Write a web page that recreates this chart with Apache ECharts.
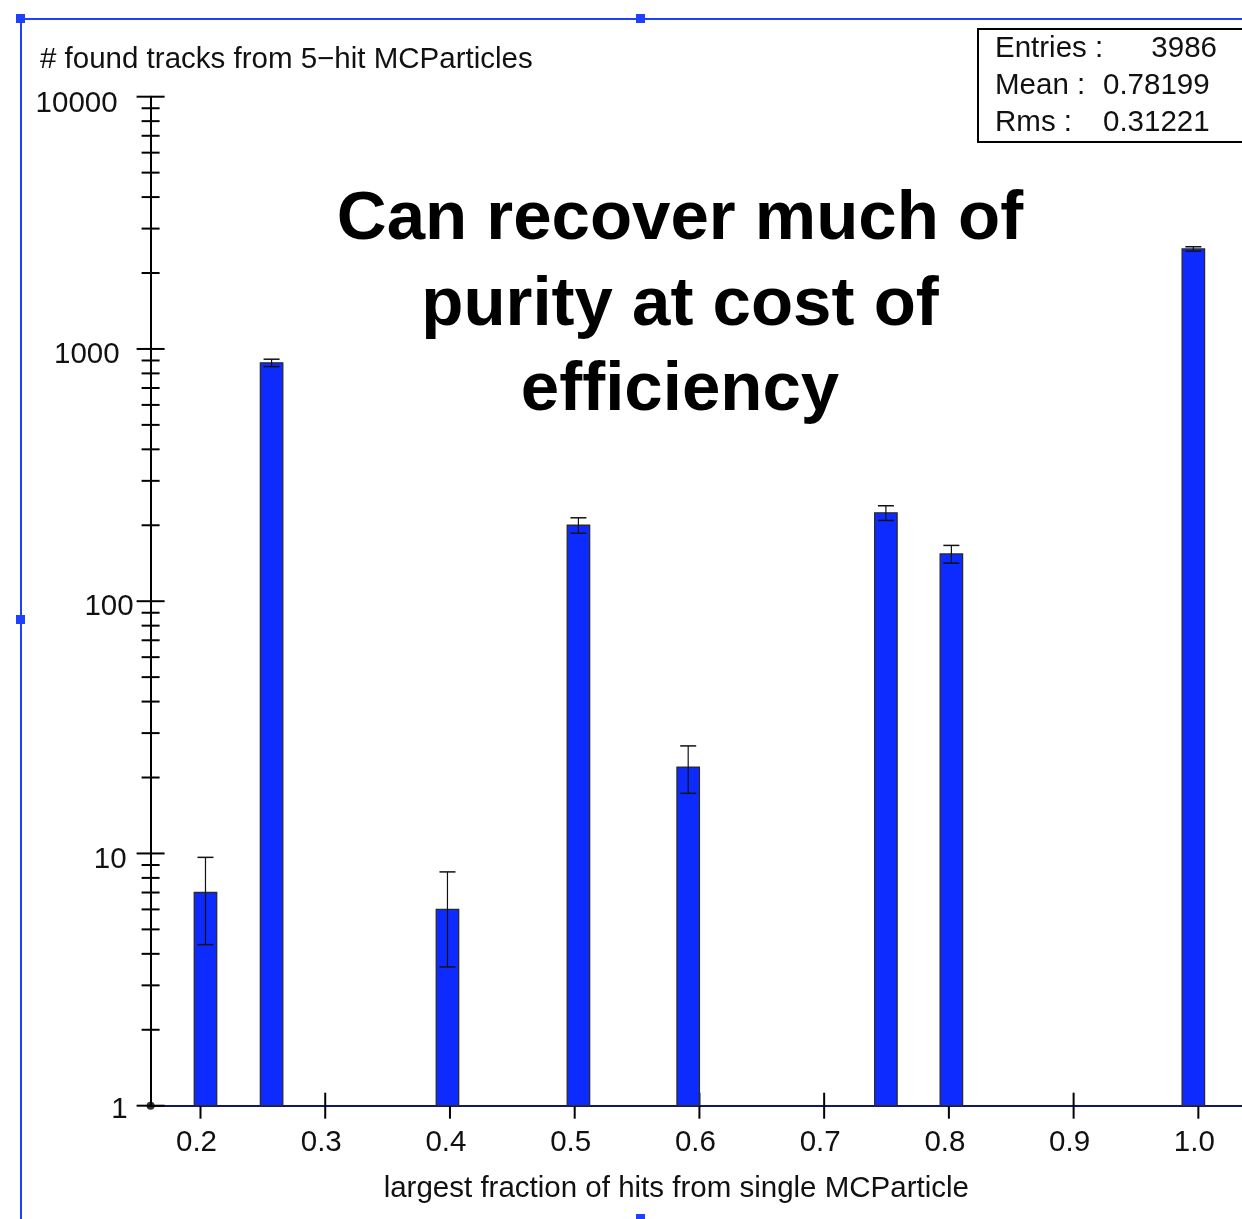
<!DOCTYPE html>
<html>
<head>
<meta charset="utf-8">
<title>found tracks vs largest hit fraction</title>
<script src="https://cdn.jsdelivr.net/npm/echarts@6/dist/echarts.min.js"></script>
<style>
  html, body { margin: 0; padding: 0; background: #ffffff; }
  #chart { width: 1242px; height: 1219px; }
</style>
</head>
<body>
<div id="chart"></div>
<script>
// Histogram: largest fraction of hits from a single MCParticle (5-hit particles)
const BIN_CENTERS = [0.204, 0.257, 0.398, 0.503, 0.591, 0.7495, 0.802, 0.996];
const COUNTS      = [7, 881, 6, 200, 22, 224, 154, 2492];
const ERRORS      = [2.65, 29.7, 2.45, 14.1, 4.69, 15.0, 12.4, 49.9];
const BIN_WIDTH   = 0.018;

const X_TICKS   = [0.2, 0.3, 0.4, 0.5, 0.6, 0.7, 0.8, 0.9, 1.0];
const Y_DECADES = [1, 10, 100, 1000, 10000];

const STAT_NAMES  = ['Entries :', 'Mean :', 'Rms :'];
const STAT_VALUES = ['3986', '0.78199', '0.31221'];

const ANNOTATION = ['Can recover much of', 'purity at cost of', 'efficiency'];

const X_MIN = 0.16, X_MAX = 1.035, Y_MIN = 1, Y_MAX = 10000;
const FONT = '"Liberation Sans", Arial, Helvetica, sans-serif';
const FS = 29.5;
const BAR_FILL = '#0d2bff';
const FRAME_BLUE = '#2040ff';

// y ticks: decades are major, 2..9 multiples are minor
const yTickData = [];
for (let d = 0; d < Y_DECADES.length; d++) {
  yTickData.push([X_MIN, Y_DECADES[d], 1]);
  if (d < Y_DECADES.length - 1) {
    for (let m = 2; m <= 9; m++) yTickData.push([X_MIN, Y_DECADES[d] * m, 0]);
  }
}
const xTickData = X_TICKS.map(v => [v, Y_MIN]);
const barData = BIN_CENTERS.map((c, i) => [c, COUNTS[i], ERRORS[i]]);

// per-label offsets for the y axis numbers
const yLabelRich = {
  l10000: { padding: [14, 17, 0, 0] },
  l1000:  { padding: [12, 15, 0, 0] },
  l100:   { padding: [12, 1, 0, 0] },
  l10:    { padding: [12, 8, 0, 0] },
  l1:     { padding: [8, 7, 0, 0] }
};

const chart = echarts.init(document.getElementById('chart'), null, { renderer: 'canvas' });

const statsGraphic = [];
statsGraphic.push({
  type: 'rect', left: 977, top: 28, z: 10,
  shape: { width: 280, height: 113 },
  style: { fill: '#ffffff', stroke: '#000000', lineWidth: 2 }
});
STAT_NAMES.forEach((name, i) => {
  statsGraphic.push({
    type: 'text', x: 995, y: 48.5 + i * 37, z: 11,
    style: { text: name, font: FS + 'px ' + FONT, fill: '#111', textVerticalAlign: 'middle' }
  });
});
statsGraphic.push({
  type: 'text', x: 1217, y: 48.5, z: 11,
  style: { text: STAT_VALUES[0], font: FS + 'px ' + FONT, fill: '#111', textAlign: 'right', textVerticalAlign: 'middle' }
});
for (let i = 1; i < STAT_VALUES.length; i++) {
  statsGraphic.push({
    type: 'text', x: 1103, y: 48.5 + i * 37, z: 11,
    style: { text: STAT_VALUES[i], font: FS + 'px ' + FONT, fill: '#111', textVerticalAlign: 'middle' }
  });
}

const annotationGraphic = ANNOTATION.map((line, i) => ({
  type: 'text', x: 680, y: 220 + i * 85.5, z: 12,
  style: {
    text: line, font: 'bold 69px ' + FONT, fill: '#000',
    textAlign: 'center', textVerticalAlign: 'middle'
  }
}));

// blue selection frame with handles
const frameGraphic = [
  { type: 'line', z: 20, shape: { x1: 21, y1: 19, x2: 1242, y2: 19 }, style: { stroke: FRAME_BLUE, lineWidth: 2 } },
  { type: 'line', z: 20, shape: { x1: 21, y1: 19, x2: 21, y2: 1219 }, style: { stroke: FRAME_BLUE, lineWidth: 2 } },
  { type: 'rect', z: 21, shape: { x: 16, y: 14, width: 9, height: 9 }, style: { fill: FRAME_BLUE } },
  { type: 'rect', z: 21, shape: { x: 636, y: 14, width: 9, height: 9 }, style: { fill: FRAME_BLUE } },
  { type: 'rect', z: 21, shape: { x: 16, y: 615, width: 9, height: 9 }, style: { fill: FRAME_BLUE } },
  { type: 'rect', z: 21, shape: { x: 636, y: 1214, width: 9, height: 9 }, style: { fill: FRAME_BLUE } }
];

const option = {
  animation: false,
  backgroundColor: '#ffffff',
  title: {
    text: '# found tracks from 5\u2212hit MCParticles',
    left: 35, top: 40,
    textStyle: { fontFamily: FONT, fontSize: FS, fontWeight: 'normal', color: '#111' }
  },
  grid: { left: 150.6, top: 96.7, right: 0, height: 1009 },
  xAxis: {
    type: 'value', min: X_MIN, max: X_MAX,
    axisLine: { show: true, lineStyle: { color: '#10186e', width: 2 } },
    axisTick: { show: false },
    splitLine: { show: false },
    axisLabel: {
      customValues: X_TICKS,
      formatter: v => v.toFixed(1),
      fontFamily: FONT, fontSize: FS, color: '#111', margin: 22,
      padding: [0, 8, 0, 0]
    },
    name: 'largest fraction of hits from single MCParticle',
    nameLocation: 'middle', nameGap: 68,
    nameTextStyle: { fontFamily: FONT, fontSize: FS, color: '#111', padding: [0, 40, 0, 0] }
  },
  yAxis: {
    type: 'log', logBase: 10, min: Y_MIN, max: Y_MAX,
    axisLine: { show: true, lineStyle: { color: '#000', width: 2 } },
    axisTick: { show: false },
    minorTick: { show: false },
    splitLine: { show: false },
    axisLabel: {
      fontFamily: FONT, fontSize: FS, color: '#111', margin: 16,
      formatter: v => '{l' + v + '|' + v + '}',
      rich: yLabelRich
    }
  },
  graphic: [].concat(statsGraphic, annotationGraphic, frameGraphic),
  series: [
    {
      // y-axis ticks crossing the axis line
      type: 'custom', clip: false, z: 3,
      data: yTickData,
      renderItem: (params, api) => {
        const p = api.coord([api.value(0), api.value(1)]);
        const major = api.value(2) === 1;
        const l = major ? 14 : 9, r = major ? 14 : 9;
        return {
          type: 'line',
          shape: { x1: p[0] - l, y1: p[1], x2: p[0] + r, y2: p[1] },
          style: { stroke: '#000', lineWidth: 2 }
        };
      }
    },
    {
      // x-axis ticks crossing the axis line
      type: 'custom', clip: false, z: 3,
      data: xTickData,
      renderItem: (params, api) => {
        const p = api.coord([api.value(0), api.value(1)]);
        return {
          type: 'line',
          shape: { x1: p[0], y1: p[1] - 13, x2: p[0], y2: p[1] + 13 },
          style: { stroke: '#000', lineWidth: 2 }
        };
      }
    },
    {
      // histogram bars with sqrt(N) error bars
      type: 'custom', clip: false, z: 5,
      data: barData,
      renderItem: (params, api) => {
        const c = api.value(0), n = api.value(1), e = api.value(2);
        const tl = api.coord([c - BIN_WIDTH / 2, n]);
        const br = api.coord([c + BIN_WIDTH / 2, Y_MIN]);
        const mid = api.coord([c, n]);
        const hi = api.coord([c, n + e]);
        const lo = api.coord([c, n - e]);
        const cap = 8;
        return {
          type: 'group',
          children: [
            {
              type: 'rect',
              shape: { x: tl[0], y: tl[1], width: br[0] - tl[0], height: br[1] - tl[1] },
              style: { fill: BAR_FILL, stroke: '#2a2a2a', lineWidth: 1.3 }
            },
            { type: 'line', shape: { x1: mid[0], y1: hi[1], x2: mid[0], y2: lo[1] }, style: { stroke: '#111', lineWidth: 1.2 } },
            { type: 'line', shape: { x1: mid[0] - cap, y1: hi[1], x2: mid[0] + cap, y2: hi[1] }, style: { stroke: '#111', lineWidth: 1.5 } },
            { type: 'line', shape: { x1: mid[0] - cap, y1: lo[1], x2: mid[0] + cap, y2: lo[1] }, style: { stroke: '#111', lineWidth: 1.5 } }
          ]
        };
      }
    },
    {
      // origin dot
      type: 'scatter', z: 6, symbolSize: 8, silent: true,
      itemStyle: { color: '#000' },
      data: [[X_MIN, Y_MIN]]
    }
  ]
};

chart.setOption(option);
</script>
</body>
</html>
